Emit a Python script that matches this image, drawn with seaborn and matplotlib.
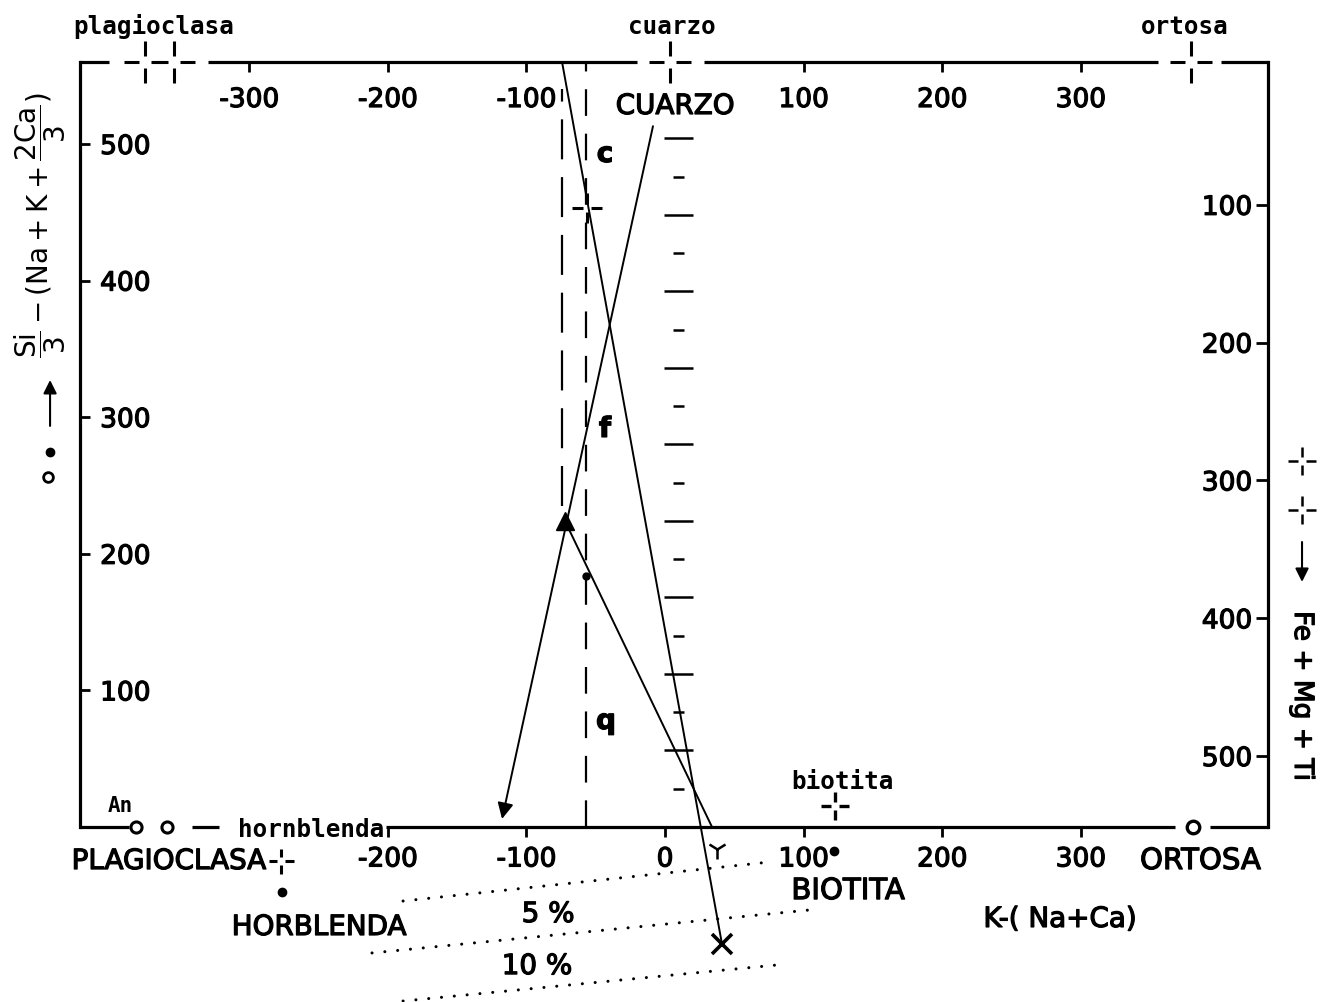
import matplotlib
matplotlib.use("Agg")
import matplotlib.pyplot as plt
import matplotlib.patheffects as pe
from matplotlib.path import Path
import seaborn as sns

sns.set_theme(style="white")
plt.rcParams["font.family"] = ["DejaVu Sans"]
plt.rcParams["mathtext.fontset"] = "dejavusans"
for key in ("text.color", "axes.labelcolor", "xtick.color", "ytick.color",
            "axes.edgecolor"):
    plt.rcParams[key] = "black"

# ---------------- axis ranges and ticks ----------------
x_range = (-422.1, 435.1)
y_range = (0, 560)
fe_range = (551.5, -3.6)              # Fe+Mg+Ti, read downward on the right
x_ticks_bottom = [-200, -100, 0, 100, 200, 300]
x_ticks_top = [-300, -200, -100, 100, 200, 300]
y_ticks_left = [100, 200, 300, 400, 500]
y_ticks_right = [100, 200, 300, 400, 500]

# broken frame rules (top and bottom), as x-intervals
top_rule = [(-422.1, -401), (-330, -20), (28, 356), (401, 435.1)]
bottom_rule = [(-422.1, -387), (-341, -322), (-201, 368), (393, 435.1)]

# mineral poles
pole_top_x = [-375, -354, 3.6, 379.5]          # plagioclasa, plagioclasa, cuarzo, ortosa
pole_an_x = [-381.7, -359.3]                   # An circles on the base line
pole_ortosa_x = 381
biotita_pole = (122.7, 15.4)
biotita_dot = (122, -17.6)
plag_pole = (-277, -25)
horn_dot = (-276.3, -47.6)

# construction lines
dash_long_x = [-74, -74]
dash_long_y = [235, 540]
dash_med_x = [-57, -57]
dash_med_y = [0, 560]

trend_x = [-74.3, 41.1]
trend_y = [560, -85.7]
trend_cross = (-56.3, 453)
trend_end = (41.1, -85.7)
trend_y_mark = (37.5, -16.1)

cuarzo_start = (-8.7, 513)
cuarzo_end = (-117.6, 5.9)
apex = (-72.2, 224)

fline_x = [-72.2, 33.9]
fline_y = [224, 0]
fline_dot = (-57, 184)

# graduated column of dashes
scale_y = [28, 56, 84, 112, 140, 168, 196, 224, 252, 280,
           308, 336, 364, 392, 420, 448, 476, 504]
scale_x = 9.4

# percentage guide lines (dotted)
guide_5a = ([-189, 75.8], [-54.2, -25.6])
guide_5b = ([-211.4, 111.8], [-92.2, -60.0])
guide_10 = ([-189, 88], [-127.4, -100.3])


def gapped_cross(gap=0.28):
    verts = [(-1, 0), (-gap, 0), (gap, 0), (1, 0),
             (0, -1), (0, -gap), (0, gap), (0, 1)]
    codes = [Path.MOVETO, Path.LINETO] * 4
    return Path(verts, codes)


CROSS = gapped_cross()
HEAVY = [pe.withStroke(linewidth=0.9, foreground="black")]

fig = plt.figure(figsize=(13.27, 10.03), dpi=100)
ax = fig.add_axes([0.06029, 0.17448, 0.8953, 0.76271])
ax.set_xlim(*x_range)
ax.set_ylim(*y_range)

for side in ("top", "bottom"):
    ax.spines[side].set_visible(False)
for side in ("left", "right"):
    ax.spines[side].set_linewidth(2.3)
    ax.spines[side].set_color("black")

FRAME_LW = 2.3
for x0, x1 in top_rule:
    ax.plot([x0, x1], [y_range[1], y_range[1]], color="black", lw=FRAME_LW,
            clip_on=False, solid_capstyle="butt", zorder=3)
for x0, x1 in bottom_rule:
    ax.plot([x0, x1], [0, 0], color="black", lw=FRAME_LW,
            clip_on=False, solid_capstyle="butt", zorder=3)

# bottom axis
ax.set_xticks(x_ticks_bottom)
ax.set_xticklabels([str(v) for v in x_ticks_bottom])
ax.tick_params(axis="x", direction="out", length=7, width=2, labelsize=19,
               pad=7, colors="black", bottom=True)
ax.xaxis.get_major_ticks()[x_ticks_bottom.index(0)].tick1line.set_visible(False)

# left axis, labels inside the frame
ax.set_yticks(y_ticks_left)
ax.set_yticklabels([str(v) for v in y_ticks_left])
ax.tick_params(axis="y", direction="in", length=7, width=2, labelsize=19,
               pad=-14.5, colors="black", left=True)
plt.setp(ax.get_yticklabels(), ha="left")

# top axis, labels inside the frame
ax_t = ax.twiny()
ax_t.set_xlim(*x_range)
ax_t.set_xticks(x_ticks_top)
ax_t.set_xticklabels([str(v) for v in x_ticks_top])
ax_t.tick_params(axis="x", direction="in", length=7, width=2, labelsize=19,
                 pad=-18, colors="black")
plt.setp(ax_t.get_xticklabels(), va="top")
for s in ax_t.spines.values():
    s.set_visible(False)

# right axis (Fe+Mg+Ti), labels inside the frame
ax_r = ax.twinx()
ax_r.set_ylim(*fe_range)
ax_r.set_yticks(y_ticks_right)
ax_r.set_yticklabels([str(v) for v in y_ticks_right])
ax_r.tick_params(axis="y", direction="in", length=9, width=2, labelsize=19,
                 pad=-11.5, colors="black")
plt.setp(ax_r.get_yticklabels(), ha="right")
for s in ax_r.spines.values():
    s.set_visible(False)

for lbl in (ax.get_xticklabels() + ax.get_yticklabels()
            + ax_t.get_xticklabels() + ax_r.get_yticklabels()):
    lbl.set_path_effects(HEAVY)

# ---------------- construction lines ----------------
ax.plot(dash_long_x, dash_long_y, color="black", lw=1.6,
        linestyle=(0, (18, 8)), zorder=2)
ax.plot(dash_med_x, dash_med_y, color="black", lw=1.6,
        linestyle=(0, (12, 8)), zorder=2)

sns.lineplot(x=trend_x, y=trend_y, ax=ax, color="black", lw=1.4,
             sort=False, estimator=None, clip_on=False, zorder=4)
sns.lineplot(x=fline_x, y=fline_y, ax=ax, color="black", lw=1.4,
             sort=False, estimator=None, zorder=4)
ax.annotate("", xy=cuarzo_end, xytext=cuarzo_start,
            arrowprops=dict(arrowstyle="-|>", color="black", lw=1.4,
                            mutation_scale=24, shrinkA=0, shrinkB=0),
            zorder=4)

ax.plot(*apex, marker="^", ms=13, color="black", zorder=5)
ax.plot(*fline_dot, marker="o", ms=5, color="black", zorder=5)
ax.plot(*trend_cross, marker=CROSS, ms=22, mew=2.2, mec="black",
        mfc="none", zorder=5)
ax.plot(*trend_end, marker="x", ms=14, mew=2.6, color="black",
        clip_on=False, zorder=5)
ax.plot(*trend_y_mark, marker="1", ms=14, mew=1.8, color="black",
        clip_on=False, zorder=5)

# graduated dash column
for i, yv in enumerate(scale_y):
    half = 10.5 if i % 2 == 1 else 4.0
    ax.plot([scale_x - half, scale_x + half], [yv, yv], color="black",
            lw=1.8, solid_capstyle="butt", zorder=3)

# dotted percentage guides
for gx, gy in (guide_5a, guide_5b, guide_10):
    ax.plot(gx, gy, color="black", lw=2.2, linestyle=(0, (0.01, 4.2)),
            dash_capstyle="round", clip_on=False)

# ---------------- mineral poles ----------------
ax.plot(pole_top_x, [y_range[1]] * len(pole_top_x), linestyle="none",
        marker=CROSS, ms=30, mew=2.2, mec="black", mfc="none",
        clip_on=False, zorder=5)
ax.plot(pole_an_x, [0, 0], linestyle="none", marker="o", ms=8, mew=2.2,
        mec="black", mfc="white", clip_on=False, zorder=5)
ax.plot(pole_ortosa_x, 0, marker="o", ms=9, mew=2.4, mec="black",
        mfc="white", clip_on=False, zorder=5)
ax.plot(*biotita_pole, marker=CROSS, ms=20, mew=2.4, mec="black",
        mfc="none", zorder=5)
ax.plot(*biotita_dot, marker="o", ms=6, color="black", clip_on=False)
ax.plot(*plag_pole, marker=CROSS, ms=18, mew=2.2, mec="black",
        mfc="none", clip_on=False, zorder=5)
ax.plot(*horn_dot, marker="o", ms=6, color="black", clip_on=False)

# ---------------- labels ----------------
small = dict(family="DejaVu Sans Mono", fontweight="bold", fontsize=17.5,
             ha="center", va="center", color="black", clip_on=False)
ax.text(-368.7, 586.4, "plagioclasa", **small)
ax.text(5.1, 586.4, "cuarzo", **small)
ax.text(375.2, 586.4, "ortosa", **small)
ax.text(127.7, 33.7, "biotita", **small)
ax.text(-255.4, -1.5, "hornblenda", **small,
        bbox=dict(facecolor="white", edgecolor="none", pad=0.5))
ax.text(-393.2, 16.1, "An", **{**small, "fontsize": 15})

big = dict(fontsize=20, ha="center", va="center", color="black",
           clip_on=False, path_effects=HEAVY)
ax.text(7.2, 527.8, "CUARZO", **big)
ax.text(-43.3, 492.7, "c", fontweight="bold", **big)
ax.text(-43.3, 291.4, "f", fontweight="bold", **big)
ax.text(-42.6, 77.6, "q", fontweight="bold", **big)
ax.text(-287.9, -24.9, "PLAGIOCLASA", **{**big, "ha": "right"})
ax.text(-249.6, -73.2, "HORBLENDA", **big)
ax.text(342.7, -24.9, "ORTOSA", **{**big, "ha": "left", "fontsize": 21})
ax.text(132, -46.9, "BIOTITA", **{**big, "fontsize": 21})
ax.text(285, -67.3, "K-( Na+Ca)", **big)
ax.text(-84.4, -63.7, "5 %", **big)
ax.text(-92.4, -101.8, "10 %", **big)

# left axis title with its symbols
ax.text(-451, 441,
        r"$\dfrac{\mathrm{Si}}{3}-(\mathrm{Na}+\mathrm{K}+\dfrac{2\mathrm{Ca}}{3})$",
        rotation=90, fontsize=20, ha="center", va="center", color="black",
        clip_on=False)
ax.annotate("", xy=(-443.7, 327.2), xytext=(-443.7, 293.6),
            arrowprops=dict(arrowstyle="-|>", color="black", lw=1.5,
                            mutation_scale=20, shrinkA=0, shrinkB=0),
            annotation_clip=False)
ax.plot(-443.7, 274.5, marker="o", ms=6, color="black", clip_on=False)
ax.plot(-445, 256, marker="o", ms=7, mew=2, mec="black", mfc="white",
        clip_on=False)

# right axis title with its symbols
ax.plot([459.6, 459.6], [268, 232], linestyle="none", marker=CROSS, ms=20,
        mew=1.8, mec="black", mfc="none", clip_on=False)
ax.annotate("", xy=(459.6, 179.4), xytext=(459.6, 208.6),
            arrowprops=dict(arrowstyle="-|>", color="black", lw=1.5,
                            mutation_scale=20, shrinkA=0, shrinkB=0),
            annotation_clip=False)
ax.text(459.6, 95.9, "Fe + Mg + Ti", rotation=-90, fontsize=19,
        ha="center", va="center", color="black", clip_on=False,
        path_effects=HEAVY)

fig.savefig("out.png", dpi=100, facecolor="white")
